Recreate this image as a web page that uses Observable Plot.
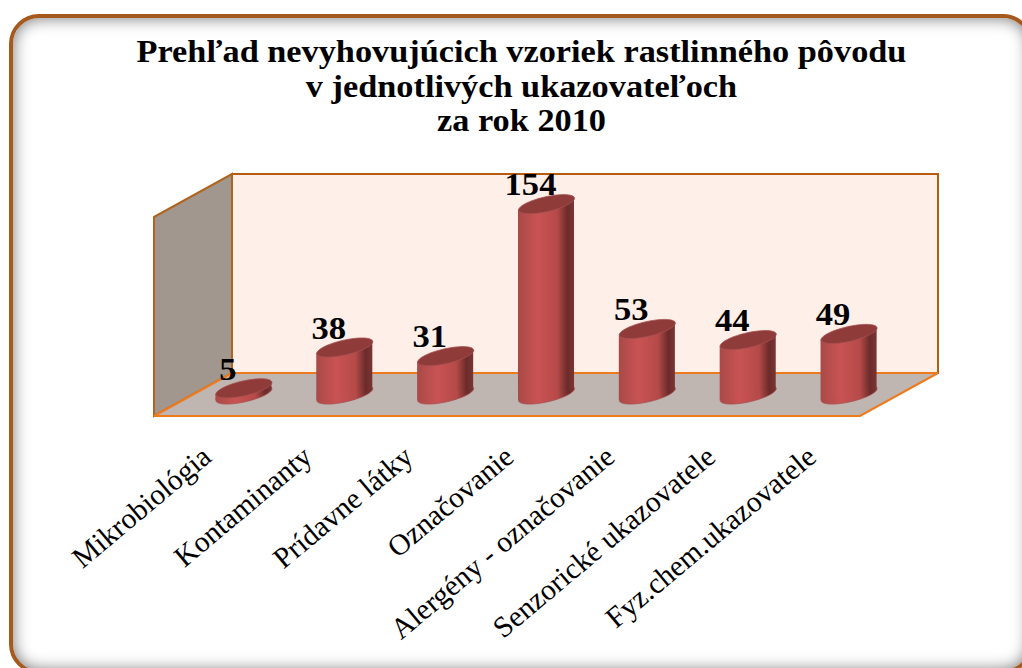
<!DOCTYPE html>
<html>
<head>
<meta charset="utf-8">
<script src="https://cdn.jsdelivr.net/npm/d3@7"></script>
<script src="https://cdn.jsdelivr.net/npm/@observablehq/plot@0.6"></script>
<style>
html,body{margin:0;padding:0;background:#fff;width:1022px;height:668px;overflow:hidden}
#panel{position:absolute;left:9px;top:14px;width:1024px;height:660px;border:4px solid #A5591C;border-radius:30px;box-shadow:inset 0 0 16px rgba(0,0,0,.55);box-sizing:border-box}
#chart{position:absolute;left:0;top:0}
#chart svg{background:transparent!important;display:block}
</style>
</head>
<body>
<div id="panel"></div>
<div id="chart"></div>
<script>
const categories = ["Mikrobiológia","Kontaminanty","Prídavne látky","Označovanie","Alergény - označovanie","Senzorické ukazovatele","Fyz.chem.ukazovatele"];
const values = [5,38,31,154,53,44,49];
const titleLines = ["Prehľad nevyhovujúcich vzoriek rastlinného pôvodu","v jednotlivých ukazovateľoch","za rok 2010"];
const rows = categories.map((cat,i)=>({cat,val:values[i]}));

const depthX = 78, depthY = -43;
const midX = depthX/2, midY = -22;
const skewDeg = -12;
const serif = "'Liberation Serif', serif";

// tilted disc, the cap of a cylinder
const disc = {draw(ctx,size){
  const a = Math.sqrt(size/Math.PI), b = a*0.27, k = a*0.21;
  for(let i=0;i<=48;i++){
    const t = i/48*2*Math.PI;
    const px = a*Math.cos(t), py = -k*Math.cos(t) - b*Math.sin(t);
    i?ctx.lineTo(px,py):ctx.moveTo(px,py);
  }
  ctx.closePath();
}};

function walls(index,s){
  const [x0,x1] = s.x.range(), [y0,y1] = s.y.range();
  const g = d3.create("svg:g");
  const poly = (pts,fill,stroke,w)=>g.append("polygon").attr("points",pts.map(p=>p.join(",")).join(" ")).attr("fill",fill).attr("stroke",stroke).attr("stroke-width",w);
  poly([[x0+depthX,y1+depthY],[x1+depthX,y1+depthY],[x1+depthX,y0+depthY],[x0+depthX,y0+depthY]],"#FEEFE8","#B85C14",2);
  poly([[x0,y1],[x0+depthX,y1+depthY],[x0+depthX,y0+depthY],[x0,y0]],"#A2978F","#B0651F",2);
  poly([[x0,y0],[x0+depthX,y0+depthY],[x1+depthX,y0+depthY],[x1,y0]],"#BFB5B1","#EE7A1E",2);
  return g.node();
}

function skewBars(index,s,v,d,c,next){
  const g = next(index,s,v,d,c);
  d3.select(g).selectAll("rect").each(function(){
    const r = d3.select(this);
    const cx = +r.attr("x") + +r.attr("width")/2, cy = +r.attr("y");
    r.attr("transform",`translate(${cx} ${cy}) skewY(${skewDeg}) translate(${-cx} ${-cy})`);
  });
  return g;
}

const widen = (f) => function(index,s,v,d,c,next){
  const g = next(index,s,v,d,c);
  d3.select(g).selectAll("text").each(function(){
    const t = d3.select(this);
    t.attr("transform",(t.attr("transform")||"")+` scale(${f},1)`);
  });
  return g;
};

const plot = Plot.plot({
  width:1022, height:668,
  marginTop:217, marginBottom:252, marginLeft:154, marginRight:162,
  style:{background:"transparent"},
  x:{domain:categories,padding:0,round:false,label:null},
  y:{domain:[0,161],axis:null,label:null},
  marks:[
    walls,
    Plot.dot(rows,{x:"cat",y:()=>0,r:28,symbol:disc,fill:"url(#cyl)",stroke:"#A85050",strokeWidth:.8,dx:midX,dy:midY}),
    Plot.barY(rows,{x:"cat",y:"val",fill:"url(#cyl)",insetLeft:22.4,insetRight:22.4,dx:midX,dy:midY,render:skewBars}),
    Plot.dot(rows,{x:"cat",y:"val",r:28,symbol:disc,fill:"#8E3B3A",stroke:"#A85050",strokeWidth:.8,dx:midX,dy:midY}),
    Plot.text(rows,{x:"cat",y:"val",text:d=>String(d.val),dx:midX-16,dy:midY-19,fontSize:32,fontWeight:"bold",fontFamily:serif,fill:"#000",textAnchor:"middle",lineAnchor:"middle",render:widen(1.08)}),
    Plot.axisX({anchor:"bottom",tickSize:0,tickPadding:36,tickRotate:-40,fontSize:29.5,fontFamily:serif,fill:"#000",label:null,dx:2}),
    Plot.text([titleLines.join("\n")],{frameAnchor:"top",dx:14,dy:-180,text:d=>d,lineHeight:1.08,fontSize:32,fontWeight:"bold",fontFamily:serif,fill:"#000",textAnchor:"middle",lineAnchor:"top",render:widen(1.072)})
  ]
});

const defs = d3.select(plot).append("defs");
const grad = defs.append("linearGradient").attr("id","cyl").attr("x1",0).attr("x2",1).attr("y1",0).attr("y2",0);
[[0,"#A84A48"],[.35,"#C95353"],[.7,"#B54A48"],[.88,"#6B2B2A"],[1,"#7A3533"]].forEach(([o,c])=>grad.append("stop").attr("offset",o).attr("stop-color",c));
document.getElementById("chart").appendChild(plot);
</script>
</body>
</html>
